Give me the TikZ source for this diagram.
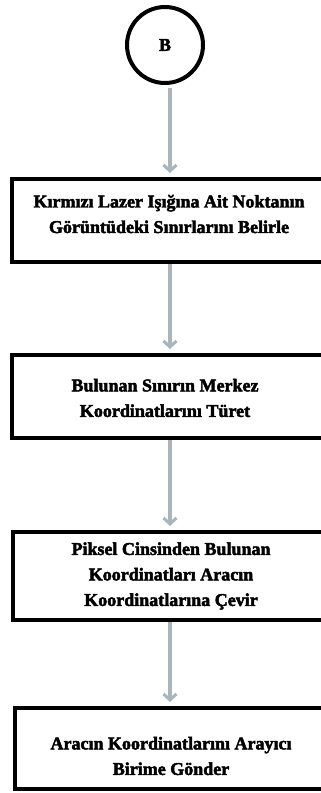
\documentclass[tikz,border=0pt]{standalone}
\usepackage{fontspec}
\setmainfont{Liberation Serif}[BoldFeatures={FakeBold=2.5}]
\usetikzlibrary{arrows.meta}

\definecolor{flowgrey}{HTML}{A9B5BE}

\tikzset{
  stepbox/.style={draw=black, line width=4pt, rectangle, minimum width=320pt,
    inner sep=0pt},
  steplabel/.style={align=center, font=\fontsize{18}{25.5}\selectfont\bfseries,
    inner sep=0pt},
  connector/.style={draw=flowgrey, line width=3.5pt,
    -{Straight Barb[length=6pt, width=13pt, line width=3pt]}, shorten >=4pt},
  terminal/.style={draw=black, line width=4pt, circle, minimum size=76pt,
    font=\fontsize{18}{20}\selectfont\bfseries, inner sep=0pt}
}

\begin{document}
\begin{tikzpicture}[x=1pt, y=-1pt]
  \useasboundingbox (0,0) rectangle (321,793);
  \clip (0,0) rectangle (321,793);

  \node[terminal] (start) at (165,45) {B};

  % process boxes (running off the right edge) and their captions
  \node[stepbox, minimum height=83pt] (find) at (172,220.5) {};
  \node[steplabel] (findtxt) at (169,214)
    {Kırmızı Lazer Işığına Ait Noktanın\\Görüntüdeki Sınırlarını Belirle};

  \node[stepbox, minimum height=83pt] (center) at (172,396.5) {};
  \node[steplabel] (centertxt) at (165,398)
    {Bulunan Sınırın Merkez\\Koordinatlarını Türet};

  \node[stepbox, minimum height=88pt] (convert) at (173,576) {};
  \node[steplabel] (converttxt) at (171,576)
    {Piksel Cinsinden Bulunan\\Koordinatları Aracın\\Koordinatlarına Çevir};

  \node[stepbox, minimum height=81pt] (send) at (175,748.5) {};
  \node[steplabel] (sendtxt) at (171,756)
    {Aracın Koordinatlarını Arayıcı\\Birime Gönder};

  \coordinate (a0) at (170,88);
  \coordinate (a1) at (170,264);
  \coordinate (a2) at (170,440);
  \coordinate (a3) at (170,622);

  \draw[connector] (a0) -- (a0 |- find.north);
  \draw[connector] (a1) -- (a1 |- center.north);
  \draw[connector] (a2) -- (a2 |- convert.north);
  \draw[connector] (a3) -- (a3 |- send.north);
\end{tikzpicture}
\end{document}
